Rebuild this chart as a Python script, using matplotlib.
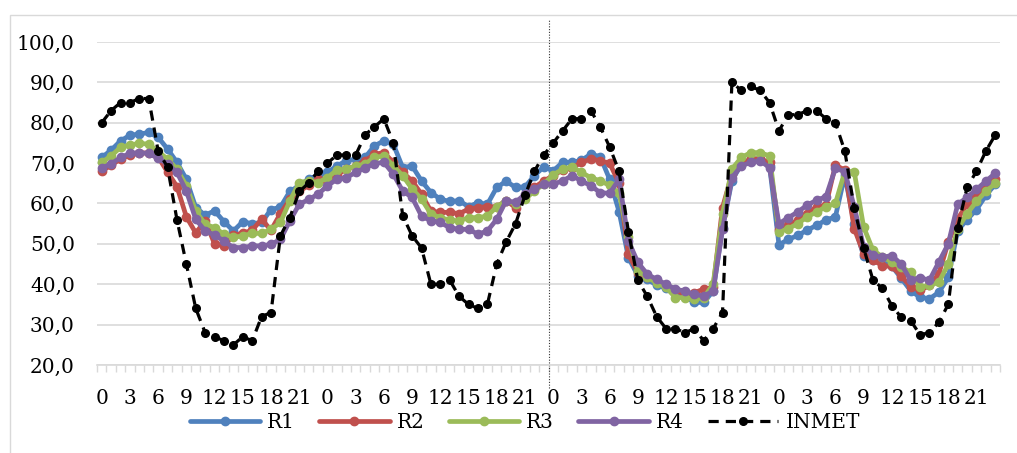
import matplotlib
matplotlib.use("Agg")
import matplotlib.pyplot as plt
from matplotlib.patches import Rectangle
import numpy as np

plt.rcParams['font.family'] = ['DejaVu Serif']

hours_per_day = 24
n_days = 4
tick_hours = [0, 3, 6, 9, 12, 15, 18, 21]

R1 = [71.4, 73.2, 75.5, 76.9, 77.2, 77.6, 76.4, 73.5, 70.2, 66.0, 59.0, 57.1, 58.2, 55.5, 53.2, 55.5, 55.0, 55.3, 58.5, 59.1, 63.0, 64.4, 66.0, 67.0,
      67.7, 69.3, 70.6, 71.0, 71.4, 74.3, 75.5, 74.7, 68.9, 69.3, 65.6, 62.7, 61.1, 60.5, 60.7, 59.2, 60.2, 59.8, 64.0, 65.5, 64.0, 64.1, 66.9, 69.1,
      68.1, 70.2, 70.2, 70.7, 72.2, 71.6, 66.0, 58.0, 46.6, 42.1, 41.2, 39.8, 39.0, 38.2, 37.1, 35.5, 35.5, 38.3, 54.0, 65.6, 69.8, 71.0, 71.0, 69.3,
      49.8, 51.1, 52.1, 53.4, 54.6, 55.9, 56.7, 67.0, 55.0, 47.0, 46.0, 45.5, 44.5, 41.5, 38.4, 36.8, 36.4, 38.0, 41.7, 53.3, 56.0, 58.5, 62.0, 64.8]
R2 = [68.0, 69.5, 71.0, 72.0, 72.5, 72.5, 71.5, 67.8, 64.2, 56.7, 52.7, 55.7, 50.0, 49.5, 52.2, 52.6, 53.4, 56.1, 53.4, 57.5, 61.0, 63.0, 64.5, 66.0,
      65.6, 67.1, 68.5, 69.3, 70.6, 72.2, 72.6, 70.2, 67.7, 65.6, 62.3, 58.1, 57.8, 57.8, 57.5, 58.6, 59.0, 59.2, 59.2, 60.7, 59.0, 61.9, 64.0, 65.6,
      66.9, 68.3, 68.8, 70.2, 71.0, 70.6, 70.0, 65.0, 47.4, 42.9, 41.7, 40.8, 39.6, 38.5, 37.5, 37.9, 38.8, 39.2, 59.0, 67.3, 69.8, 71.0, 71.0, 70.2,
      53.4, 54.6, 55.9, 57.5, 59.2, 59.6, 69.5, 68.3, 53.8, 47.6, 46.0, 44.6, 44.4, 42.1, 39.3, 38.5, 39.7, 42.6, 50.4, 56.2, 59.8, 62.3, 64.0, 66.0]
R3 = [70.2, 71.8, 73.9, 74.5, 74.9, 74.7, 72.9, 71.0, 68.5, 64.4, 58.1, 54.9, 54.0, 52.4, 51.6, 52.0, 52.6, 52.6, 53.6, 55.3, 60.6, 65.2, 65.6, 65.2,
      66.4, 68.3, 68.5, 69.3, 69.8, 71.4, 71.8, 69.3, 66.9, 63.6, 61.1, 57.4, 56.5, 55.9, 55.7, 56.5, 56.5, 56.9, 59.2, 60.7, 59.8, 61.1, 63.1, 64.8,
      67.1, 68.5, 69.1, 67.7, 66.4, 65.6, 64.5, 62.5, 51.6, 43.3, 41.7, 40.4, 39.2, 36.7, 36.7, 36.3, 36.7, 40.0, 57.4, 68.5, 71.4, 72.6, 72.6, 71.8,
      53.0, 53.8, 55.0, 56.7, 57.9, 59.2, 60.0, 67.9, 67.9, 54.2, 48.4, 46.8, 45.5, 44.2, 43.0, 39.3, 39.7, 40.5, 45.0, 53.7, 57.5, 60.5, 63.0, 65.0]
R4 = [68.8, 69.8, 71.4, 72.4, 72.6, 72.4, 71.2, 69.8, 67.7, 63.1, 56.1, 53.2, 52.2, 50.7, 49.1, 49.1, 49.5, 49.5, 49.9, 51.1, 55.7, 59.8, 61.0, 62.3,
      64.4, 66.0, 66.4, 67.7, 68.8, 69.9, 70.2, 67.3, 63.1, 61.5, 56.9, 55.7, 55.3, 54.0, 53.6, 53.6, 52.4, 53.2, 56.1, 60.7, 60.3, 62.3, 63.6, 64.8,
      64.8, 65.6, 66.9, 65.6, 64.4, 62.7, 62.5, 66.0, 50.7, 45.4, 42.5, 41.2, 40.0, 38.8, 38.3, 37.5, 37.1, 38.3, 53.6, 66.4, 69.3, 70.2, 70.6, 68.9,
      55.0, 56.5, 57.9, 59.6, 60.8, 61.7, 68.7, 67.9, 59.2, 49.3, 47.2, 46.7, 47.1, 45.0, 41.0, 41.6, 41.0, 45.5, 50.0, 59.8, 61.5, 63.5, 65.5, 67.5]
INMET = [80, 83, 85, 85, 86, 86, 73, 69, 56, 45, 34, 28, 27, 26, 25, 27, 26, 32, 33, 52, 56.5, 63, 65, 68,
         70, 72, 72, 72, 77, 79, 81, 75, 57, 52, 49, 40, 40, 41, 37, 35, 34, 35, 45, 50.5, 55, 62, 68, 72,
         75, 78, 81, 81, 83, 79, 74, 68, 53, 41, 37, 32, 29, 29, 28, 29, 26, 29, 33, 90, 88, 89, 88, 85,
         78, 82, 82, 83, 83, 81, 80, 73, 59, 49, 41, 39, 34.7, 31.8, 31, 27.5, 28, 30.6, 35, 54, 64, 68, 73, 77]

series_names = ["R1", "R2", "R3", "R4"]
series_colors = ["#4F81BD", "#C0504D", "#9BBB59", "#8064A2"]

FS = 14.5
W, H = 1017, 453
fig = plt.figure(figsize=(W / 100, H / 100), dpi=100)
fig.patches.append(Rectangle((10 / W, -0.05), 1.2, (H - 15) / H + 0.05,
                             transform=fig.transFigure, fill=False,
                             edgecolor="#d9d9d9", lw=1.0, zorder=0))
ax = fig.add_axes([97 / W, 1 - 365 / H, 903 / W, 323 / H])

x = np.arange(hours_per_day * n_days)
for vals, name, col in zip([R1, R2, R3, R4], series_names, series_colors):
    ax.plot(x, vals, color=col, lw=3.4, marker='o', ms=6.0, label=name,
            solid_capstyle='round', solid_joinstyle='round')
ax.plot(x, INMET, color='black', lw=2.3, ls=(0, (3.2, 2.2)), marker='o', ms=5.5,
        label="INMET")

ax.set_xlim(-0.5, hours_per_day * n_days - 0.5)
ax.set_ylim(20, 100)
ax.set_yticks(np.arange(20, 101, 10))
ax.set_yticklabels([f"{v:.1f}".replace('.', ',') for v in np.arange(20, 101, 10)])
ax.grid(axis='y', color='#d9d9d9', lw=1.2)
ax.set_axisbelow(True)

xt = [d * hours_per_day + h for d in range(n_days) for h in tick_hours]
ax.set_xticks(xt)
ax.set_xticklabels([str(h) for d in range(n_days) for h in tick_hours])
ax.set_xticks(np.arange(-0.5, hours_per_day * n_days, 1), minor=True)
ax.tick_params(axis='x', which='major', length=0, pad=17, labelsize=FS)
ax.tick_params(axis='x', which='minor', length=5, width=1, color='#d9d9d9', direction='out')
ax.tick_params(axis='y', length=0, pad=16, labelsize=FS)
for s in ['left', 'right', 'top']:
    ax.spines[s].set_visible(False)
ax.spines['bottom'].set_color('#d9d9d9')
ax.spines['bottom'].set_linewidth(1.2)

ax.axvline(hours_per_day * 2 - 0.5, ymin=-0.071, ymax=1.068, color='#333333', lw=0.8,
           ls=(0, (1, 1.5)), clip_on=False, zorder=1)

fig.legend(loc='center', bbox_to_anchor=(0.516, 0.068), ncol=5, frameon=False,
           fontsize=FS, handlelength=3.5, handletextpad=0.35, columnspacing=1.2)

fig.savefig("out.png", dpi=100)
